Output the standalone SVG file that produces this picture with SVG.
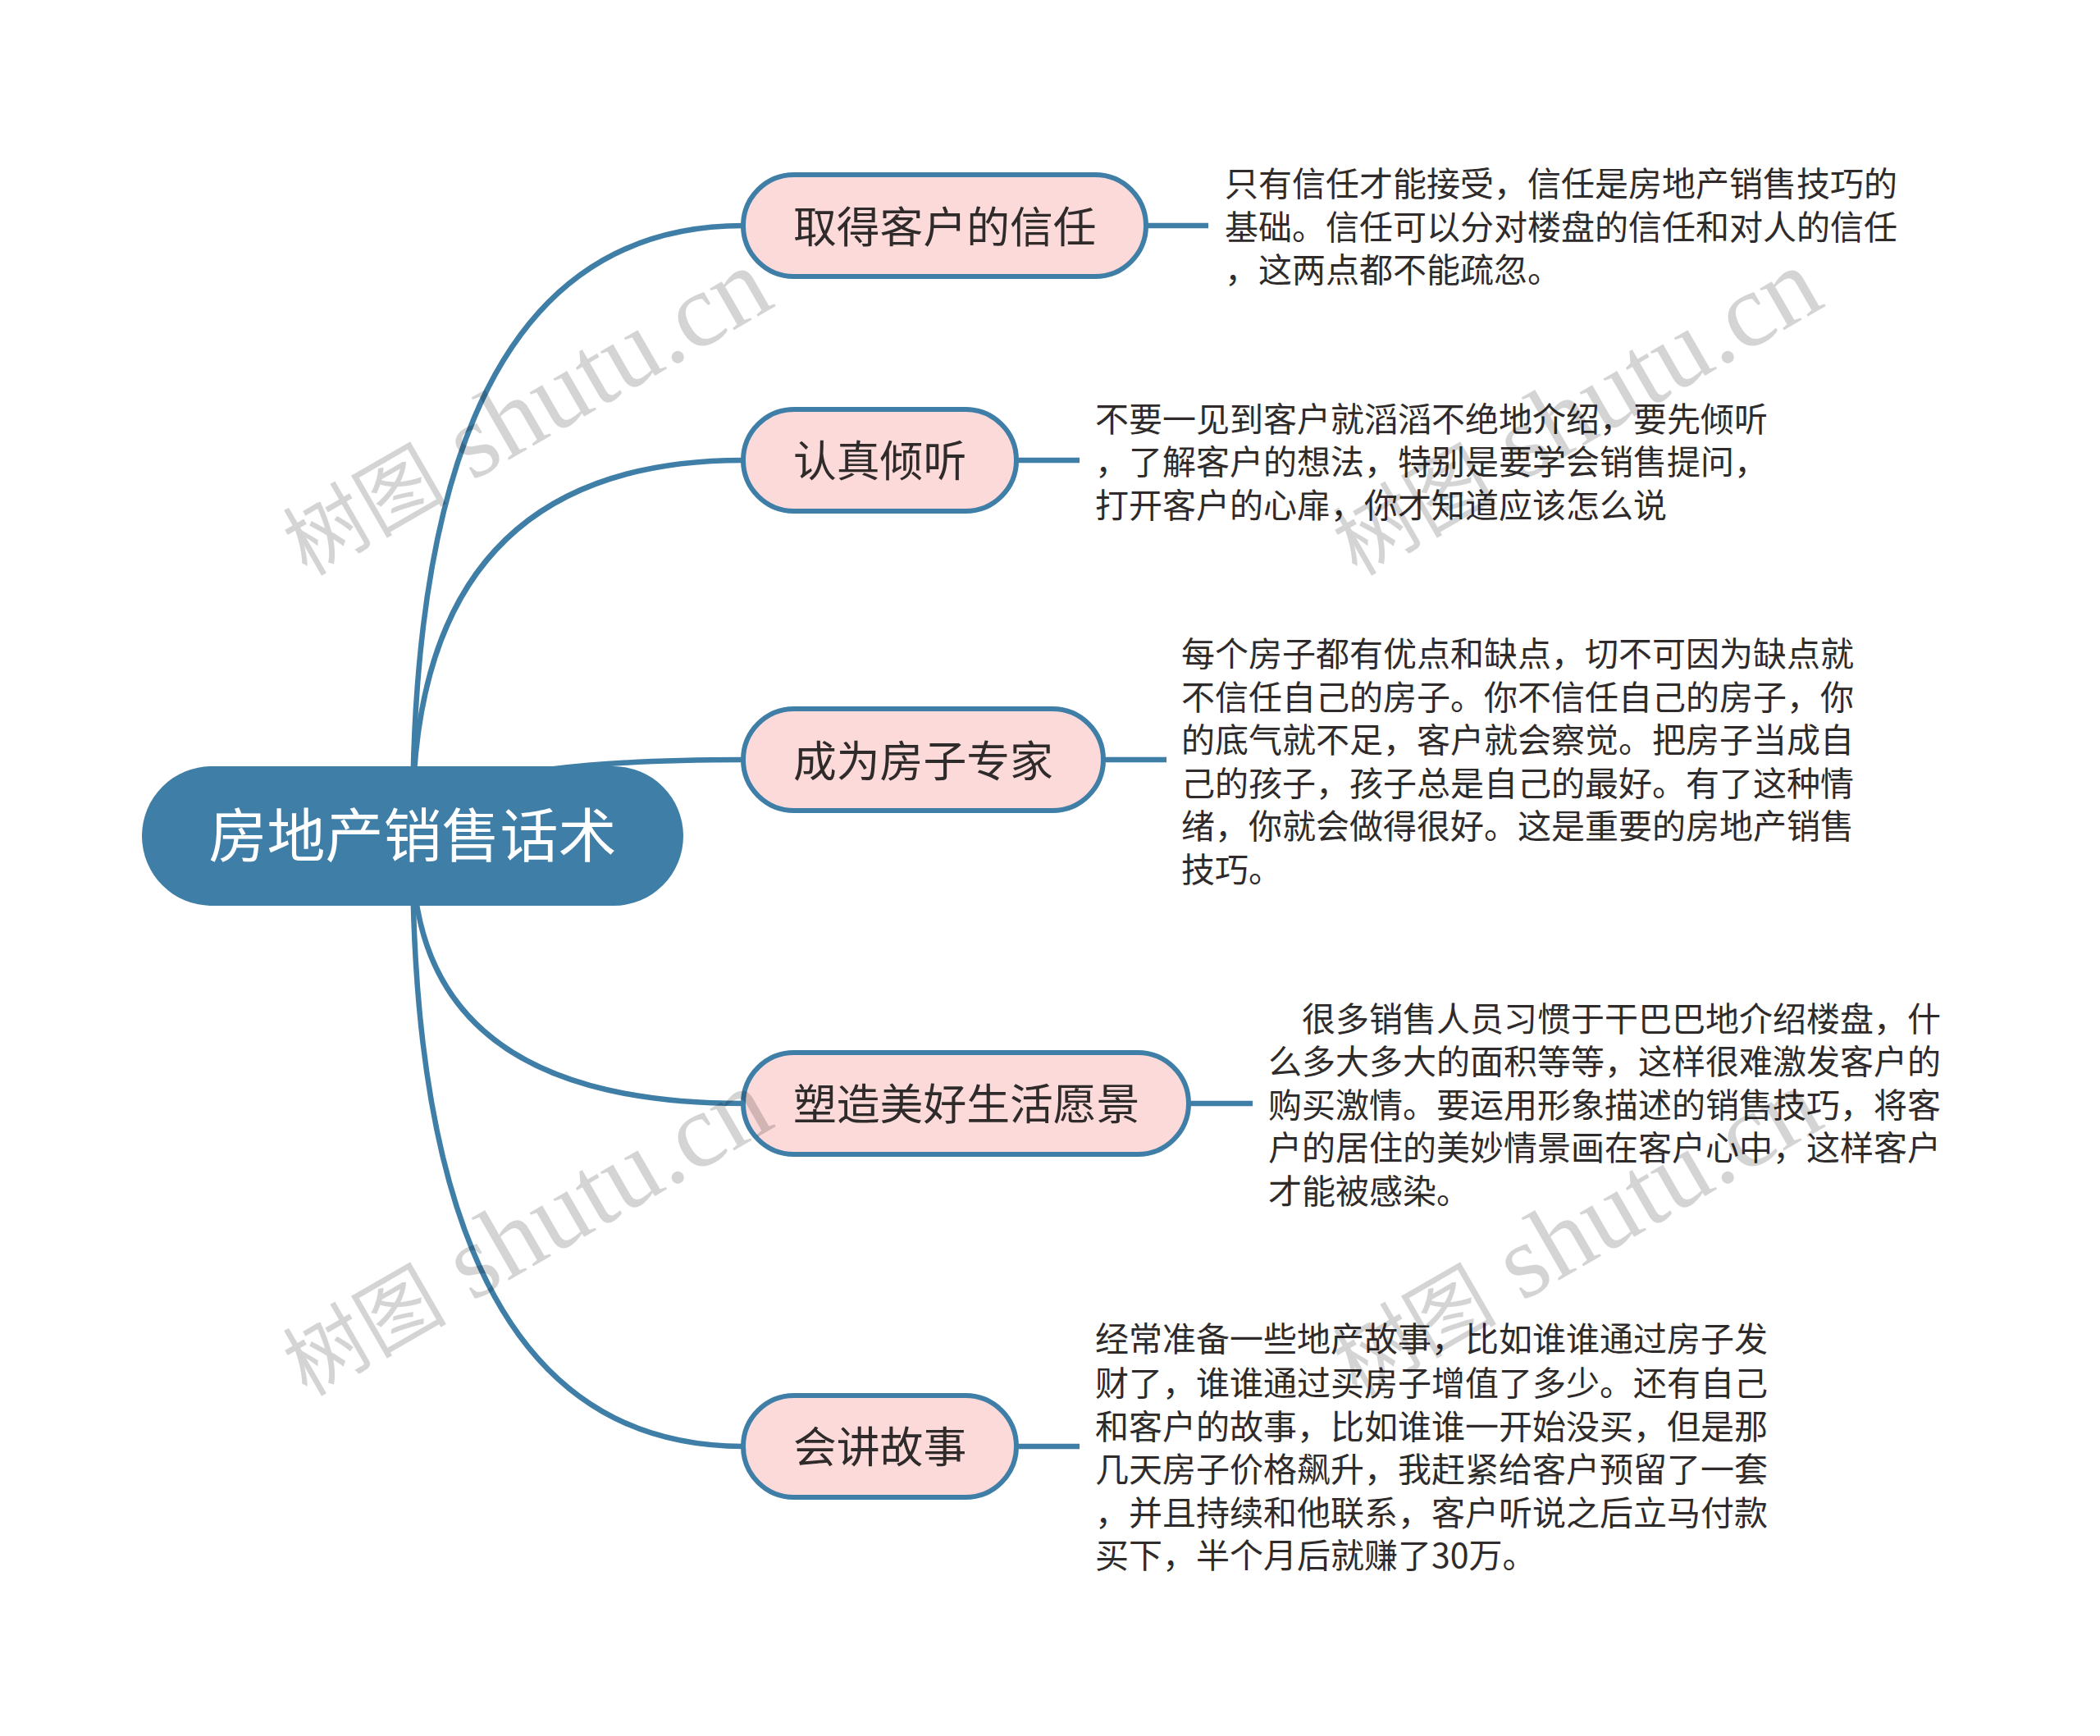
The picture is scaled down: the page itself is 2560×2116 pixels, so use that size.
<svg xmlns="http://www.w3.org/2000/svg" width="2560" height="2116" viewBox="0 0 2560 2116">
<style>
text{font-family:"Noto Sans CJK SC","Liberation Sans",sans-serif}
.c{fill:none;stroke:#3f7ea6;stroke-width:6.5}
.n{fill:#fcdada;stroke:#3f7ea6;stroke-width:6}
.l{font-size:52.8px;fill:#2f2b2b}
.d{font-size:41px;fill:#2f2b2b}
.w{font-family:"Liberation Serif","Noto Sans CJK SC",serif;font-size:128px;fill:#000;fill-opacity:.17}
.k{font-size:100px;font-weight:400}
</style>
<rect width="2560" height="2116" fill="#fff"/>
<g id="connectors">
<path class="c" d="M503 1000Q503 275 906 275"/>
<path class="c" d="M503 1000Q503 561 906 561"/>
<path class="c" d="M503 1019Q503 926 906 926"/>
<path class="c" d="M503 1038Q503 1345 906 1345"/>
<path class="c" d="M503 1038Q503 1763 906 1763"/>
<path class="c" d="M1397 275H1473"/>
<path class="c" d="M1239 561H1316"/>
<path class="c" d="M1345 926H1422"/>
<path class="c" d="M1449 1345H1527"/>
<path class="c" d="M1239 1763H1316"/>
</g>
<g id="root">
<rect x="173" y="934" width="660" height="170" rx="85" fill="#3f7ea6"/>
<text x="503" y="1044" text-anchor="middle" font-size="71" fill="#fff">房地产销售话术</text>
</g>
<g id="node1">
<rect class="n" x="906" y="213" width="491" height="124" rx="62"/>
<text class="l" x="967" y="296">取得客户的信任</text>
<text class="d" x="1493" y="239">只有信任才能接受，信任是房地产销售技巧的</text>
<text class="d" x="1493" y="292">基础。信任可以分对楼盘的信任和对人的信任</text>
<text class="d" x="1493" y="344">，这两点都不能疏忽。</text>
</g>
<g id="node2">
<rect class="n" x="906" y="499" width="333" height="124" rx="62"/>
<text class="l" x="967" y="581">认真倾听</text>
<text class="d" x="1335" y="526">不要一见到客户就滔滔不绝地介绍，要先倾听</text>
<text class="d" x="1335" y="578">，了解客户的想法，特别是要学会销售提问，</text>
<text class="d" x="1335" y="631">打开客户的心扉，你才知道应该怎么说</text>
</g>
<g id="node3">
<rect class="n" x="906" y="864" width="439" height="124" rx="62"/>
<text class="l" x="967" y="947">成为房子专家</text>
<text class="d" x="1440" y="812">每个房子都有优点和缺点，切不可因为缺点就</text>
<text class="d" x="1440" y="865">不信任自己的房子。你不信任自己的房子，你</text>
<text class="d" x="1440" y="917">的底气就不足，客户就会察觉。把房子当成自</text>
<text class="d" x="1440" y="970">己的孩子，孩子总是自己的最好。有了这种情</text>
<text class="d" x="1440" y="1022">绪，你就会做得很好。这是重要的房地产销售</text>
<text class="d" x="1440" y="1075">技巧。</text>
</g>
<g id="node4">
<rect class="n" x="906" y="1283" width="543" height="124" rx="62"/>
<text class="l" x="967" y="1365">塑造美好生活愿景</text>
<text class="d" x="1587" y="1257">很多销售人员习惯于干巴巴地介绍楼盘，什</text>
<text class="d" x="1546" y="1309">么多大多大的面积等等，这样很难激发客户的</text>
<text class="d" x="1546" y="1362">购买激情。要运用形象描述的销售技巧，将客</text>
<text class="d" x="1546" y="1414">户的居住的美妙情景画在客户心中，这样客户</text>
<text class="d" x="1546" y="1467">才能被感染。</text>
</g>
<g id="node5">
<rect class="n" x="906" y="1701" width="333" height="124" rx="62"/>
<text class="l" x="967" y="1783">会讲故事</text>
<text class="d" x="1335" y="1647">经常准备一些地产故事，比如谁谁通过房子发</text>
<text class="d" x="1335" y="1701">财了，谁谁通过买房子增值了多少。还有自己</text>
<text class="d" x="1335" y="1754">和客户的故事，比如谁谁一开始没买，但是那</text>
<text class="d" x="1335" y="1806">几天房子价格飙升，我赶紧给客户预留了一套</text>
<text class="d" x="1335" y="1859">，并且持续和他联系，客户听说之后立马付款</text>
<text class="d" x="1335" y="1911">买下，半个月后就赚了30万。</text>
</g>
<g id="watermarks">
<text class="w" transform="translate(374 703) rotate(-30)"><tspan class="k">树图</tspan> shutu.cn</text>
<text class="w" transform="translate(1654 703) rotate(-30)"><tspan class="k">树图</tspan> shutu.cn</text>
<text class="w" transform="translate(374 1703) rotate(-30)"><tspan class="k">树图</tspan> shutu.cn</text>
<text class="w" transform="translate(1654 1703) rotate(-30)"><tspan class="k">树图</tspan> shutu.cn</text>
</g>
</svg>
